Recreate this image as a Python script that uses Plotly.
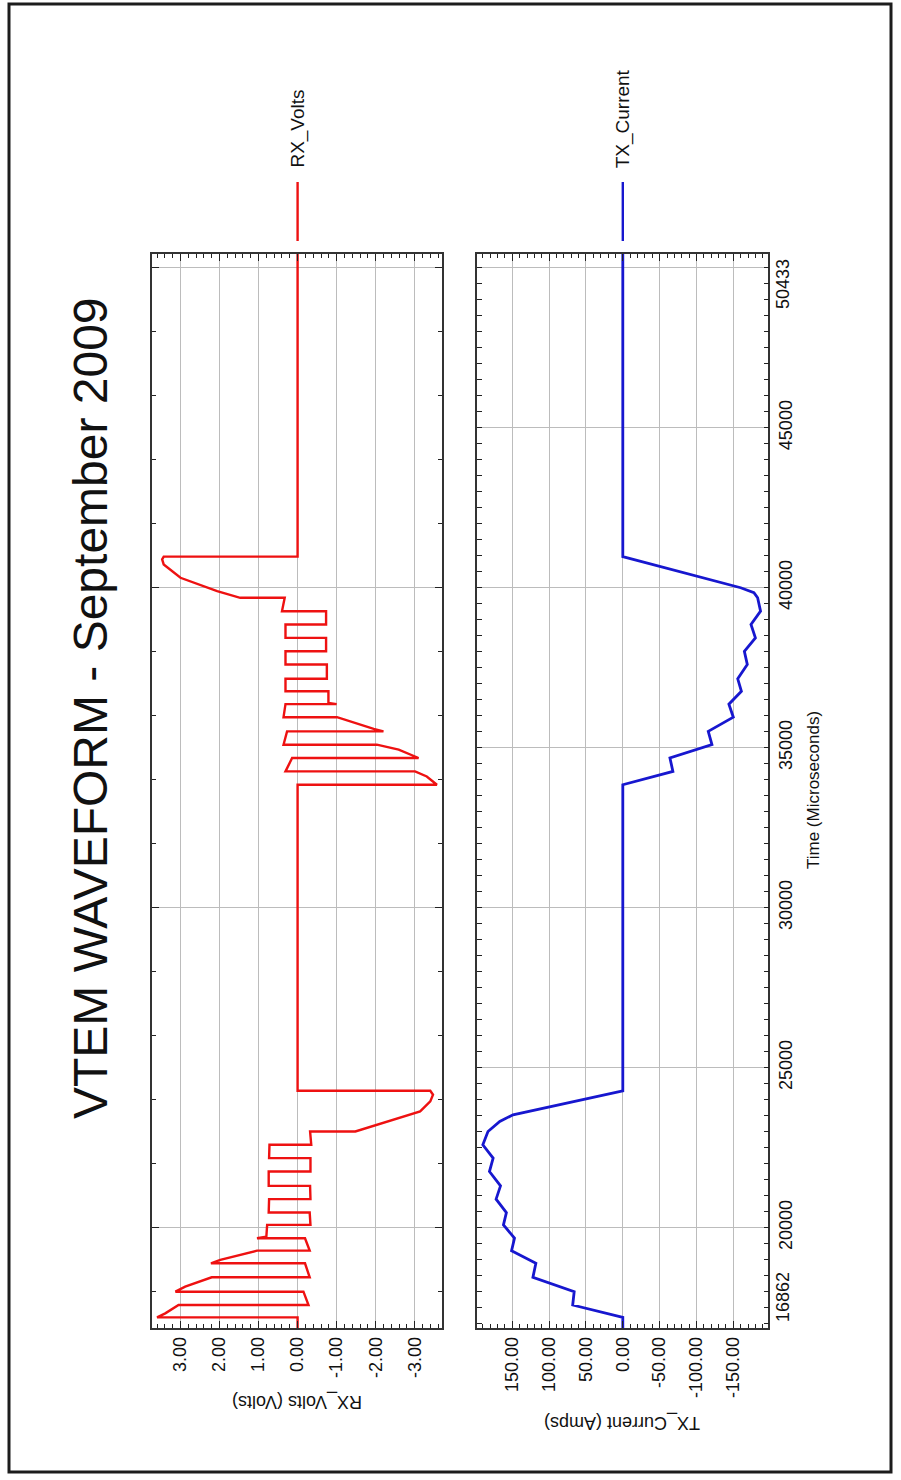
import plotly.graph_objects as go

W, H = 901, 1480

# ---------------- data ----------------
time_range = [16862, 50433]
rx_axis_range = [3.73, -3.70]
tx_axis_range = [197.5, -197.5]

rx_time = [16862, 17195, 17195, 17320, 17580, 17580, 17997, 17997, 18153, 18447,
           18447, 18885, 18885, 18989, 19280, 19280, 19668, 19668, 19720, 20085,
           20085, 20470, 20470, 20889, 20889, 21305, 21305, 21753, 21753, 22172,
           22172, 22588, 22588, 23005, 23005, 23371, 23631, 23944, 24153, 24278,
           24278, 33843, 33843, 34100, 34260, 34260, 34679, 34679, 34939, 35095,
           35095, 35512, 35512, 35590, 35955, 35955, 36362, 36362, 36400, 36764,
           36764, 37155, 37155, 37600, 37600, 38016, 38016, 38435, 38435, 38851,
           38851, 39268, 39268, 39687, 39687, 39894, 40313, 40729, 40886, 40975,
           40975, 50433]
rx_volts = [0.00, 0.00, 3.60, 3.39, 3.05, -0.28, -0.15, 3.13, 2.88, 2.20,
            -0.31, -0.19, 2.22, 1.98, 1.04, -0.31, -0.19, 1.04, 0.80, 0.78,
            -0.33, -0.31, 0.74, 0.73, -0.33, -0.32, 0.74, 0.74, -0.33, -0.33,
            0.73, 0.72, -0.35, -0.32, -1.48, -2.46, -3.14, -3.40, -3.47, -3.40,
            0.00, 0.00, -3.57, -3.31, -3.01, 0.31, 0.14, -3.10, -2.59, -2.03,
            0.36, 0.27, -2.20, -1.95, -1.01, 0.36, 0.31, -1.00, -0.79, -0.79,
            0.31, 0.31, -0.75, -0.75, 0.31, 0.31, -0.73, -0.73, 0.31, 0.31,
            -0.73, -0.73, 0.40, 0.33, 1.47, 2.06, 3.00, 3.43, 3.47, 3.43,
            0.00, 0.00]

tx_time = [16862, 17195, 17580, 17997, 18447, 18885, 19280, 19668, 20085, 20470,
           20889, 21305, 21753, 22172, 22588, 23005, 23318, 23527, 24278, 33843,
           34260, 34679, 35095, 35512, 35955, 36362, 36764, 37155, 37600, 38016,
           38435, 38851, 39268, 39687, 39850, 40000, 40975, 50433]
tx_amps = [0, 0, 68, 66, 122, 118, 151, 147, 162, 158,
           172, 166, 181, 176, 190, 183, 167, 149, 0, 0,
           -68, -64, -121, -116, -150, -144, -161, -156, -169, -165,
           -180, -174, -187, -183, -178, -160, 0, 0]

rx_tickvals = [3, 2, 1, 0, -1, -2, -3]
rx_ticktext = ["3.00", "2.00", "1.00", "0.00", "-1.00", "-2.00", "-3.00"]
tx_tickvals = [150, 100, 50, 0, -50, -100, -150]
tx_ticktext = ["150.00", "100.00", "50.00", "0.00", "-50.00", "-100.00", "-150.00"]
time_grid_top = [20000, 30000, 40000, 50000]
time_tickvals = [20000, 25000, 30000, 35000, 40000, 45000, 50000]
time_ticktext = ["20000", "25000", "30000", "35000", "40000", "45000", ""]
time_edge_labels = ["16862", "50433"]

title_text = "VTEM WAVEFORM - September 2009"
series_names = ["RX_Volts", "TX_Current"]

# ---------------- styling ----------------
RED = "#ee1111"
BLUE = "#1717cf"
FONT = "Liberation Sans, Arial, Helvetica, sans-serif"
TXT = "#111111"


def px(x):
    return x / W


def py(y):
    return 1 - y / H


fig = go.Figure()
fig.add_trace(go.Scatter(x=rx_volts, y=rx_time, mode="lines", name=series_names[0],
                         line=dict(color=RED, width=2.4), xaxis="x", yaxis="y",
                         showlegend=False, hoverinfo="skip"))
fig.add_trace(go.Scatter(x=tx_amps, y=tx_time, mode="lines", name=series_names[1],
                         line=dict(color=BLUE, width=2.8), xaxis="x2", yaxis="y2",
                         showlegend=False, hoverinfo="skip"))

common = dict(showline=True, linecolor="#333333", linewidth=1.6, mirror="ticks",
              ticks="inside", tickcolor="#222222", tickwidth=1.4, zeroline=False,
              showgrid=True, gridcolor="#bcbcbc", gridwidth=1.4,
              tickfont=dict(family=FONT, size=18, color=TXT))

panel_y = [py(1328), py(254)]

fig.update_layout(
    width=W, height=H,
    margin=dict(l=0, r=0, t=0, b=0),
    paper_bgcolor="white", plot_bgcolor="white",
    xaxis=dict(domain=[px(152), px(442)], anchor="y", range=rx_axis_range,
               tickmode="array", tickvals=rx_tickvals, ticktext=rx_ticktext,
               tickangle=-90, ticklen=7,
               minor=dict(tickmode="linear", tick0=0, dtick=0.2, ticks="inside",
                          ticklen=4, tickcolor="#222222", tickwidth=1.2, showgrid=False),
               **common),
    yaxis=dict(domain=panel_y, anchor="x", range=time_range,
               tickmode="array", tickvals=time_grid_top, showticklabels=False,
               ticklen=7,
               minor=dict(tickmode="linear", tick0=0, dtick=2000, ticks="inside",
                          ticklen=4, tickcolor="#222222", tickwidth=1.2, showgrid=False),
               **common),
    xaxis2=dict(domain=[px(477.3), px(768.3)], anchor="y2", range=tx_axis_range,
                tickmode="array", tickvals=tx_tickvals, ticktext=tx_ticktext,
                tickangle=-90, ticklen=7,
                minor=dict(tickmode="linear", tick0=0, dtick=10, ticks="inside",
                           ticklen=4, tickcolor="#222222", tickwidth=1.2, showgrid=False),
                **common),
    yaxis2=dict(domain=panel_y, anchor="x2", side="right", range=time_range,
                tickmode="array", tickvals=time_tickvals, ticktext=time_ticktext,
                tickangle=-90, ticklen=5,
                minor=dict(tickmode="linear", tick0=0, dtick=500, ticks="inside",
                           ticklen=5, tickcolor="#222222", tickwidth=1.2, showgrid=False),
                **common),
)

ann = []
# title
ann.append(dict(text=title_text, x=px(90), y=py(708), xref="paper", yref="paper",
                textangle=-90, showarrow=False, xanchor="center", yanchor="middle",
                font=dict(family=FONT, size=48, color=TXT)))
# axis titles
ann.append(dict(text="RX_Volts (Volts)", x=px(297), y=py(1402), xref="paper", yref="paper",
                textangle=180, showarrow=False, xanchor="center", yanchor="middle",
                font=dict(family=FONT, size=18, color=TXT)))
ann.append(dict(text="TX_Current (Amps)", x=px(622), y=py(1423), xref="paper", yref="paper",
                textangle=180, showarrow=False, xanchor="center", yanchor="middle",
                font=dict(family=FONT, size=18, color=TXT)))
ann.append(dict(text="Time (Microseconds)", x=px(813), y=py(790), xref="paper", yref="paper",
                textangle=-90, showarrow=False, xanchor="center", yanchor="middle",
                font=dict(family=FONT, size=17, color=TXT)))
# edge labels of the time axis
ann.append(dict(text=time_edge_labels[0], x=px(771), y=time_range[0], xref="paper", yref="y2",
                textangle=-90, showarrow=False, xanchor="left", yanchor="bottom", yshift=4,
                font=dict(family=FONT, size=18, color=TXT)))
ann.append(dict(text=time_edge_labels[1], x=px(771), y=time_range[1], xref="paper", yref="y2",
                textangle=-90, showarrow=False, xanchor="left", yanchor="top", yshift=-3,
                font=dict(family=FONT, size=18, color=TXT)))
# legend labels
ann.append(dict(text=series_names[0], x=0, y=py(170), xref="x", yref="paper",
                textangle=-90, showarrow=False, xanchor="center", yanchor="bottom",
                font=dict(family=FONT, size=19, color=TXT)))
ann.append(dict(text=series_names[1], x=0, y=py(170), xref="x2", yref="paper",
                textangle=-90, showarrow=False, xanchor="center", yanchor="bottom",
                font=dict(family=FONT, size=19, color=TXT)))
fig.update_layout(annotations=ann)

shapes = [
    dict(type="line", xref="x", yref="paper", x0=0, x1=0, y0=py(182), y1=py(241),
         line=dict(color=RED, width=2.4)),
    dict(type="line", xref="x2", yref="paper", x0=0, x1=0, y0=py(182), y1=py(241),
         line=dict(color=BLUE, width=2.4)),
    dict(type="rect", xref="paper", yref="paper", x0=px(9), x1=px(891), y0=py(1472), y1=py(4),
         line=dict(color="#1c1c1c", width=3)),
]
fig.update_layout(shapes=shapes)

fig.write_html("out.html", include_plotlyjs=True, config={"displayModeBar": False},
               post_script="document.body.style.margin='0';document.body.style.overflow='hidden';")
